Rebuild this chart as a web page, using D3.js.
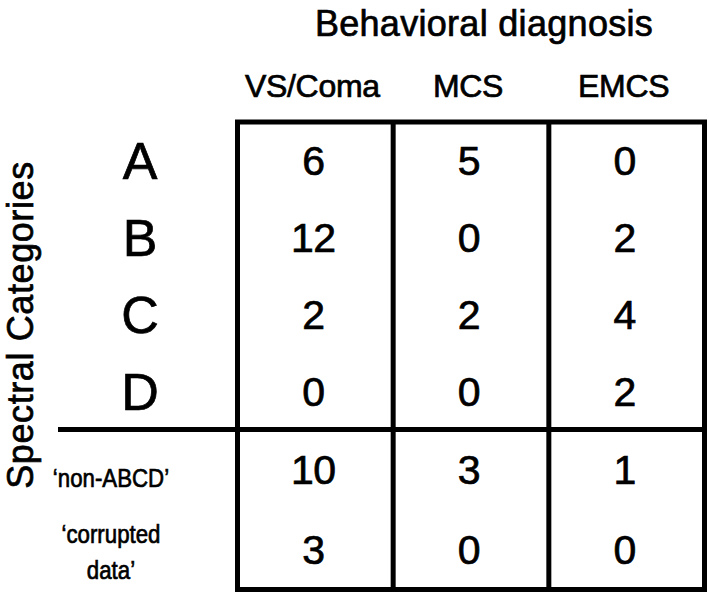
<!DOCTYPE html>
<html>
<head>
<meta charset="utf-8">
<script src="https://cdn.jsdelivr.net/npm/d3@7"></script>
<style>
  body { margin: 0; background: #fff; }
  text { font-family: "Liberation Sans", Arial, Helvetica, sans-serif; fill: #000; stroke: #000; stroke-width: 0.7px; }
</style>
</head>
<body>
<svg width="709" height="597"></svg>
<script>
// behavioral diagnosis columns
const diagnoses = ["VS/Coma", "MCS", "EMCS"];
// spectral categories (upper block) and extra rows (lower block)
const categories = ["A", "B", "C", "D"];
const extraRows = ["non-ABCD", "corrupted"];
const extraLabels = [["\u2018non-ABCD\u2019"], ["\u2018corrupted", "data\u2019"]];

// counts, one array per diagnosis column
const vsComa = [6, 12, 2, 0, 10, 3];
const mcs    = [5, 0, 2, 0, 3, 0];
const emcs   = [0, 2, 4, 2, 1, 0];
const counts = [vsComa, mcs, emcs];

const svg = d3.select("svg");

const boxL = 237.5, boxR = 704.5, boxT = 122, boxM = 429.5, boxB = 589.5;

const x = d3.scaleBand().domain(diagnoses).range([boxL, boxR]);
const yTop = d3.scaleBand().domain(categories).range([boxT, boxM]);
const yBot = d3.scaleBand().domain(extraRows).range([boxM, boxB]);

const allRows = categories.concat(extraRows);
const rowCenter = r => categories.includes(r)
    ? yTop(r) + yTop.bandwidth() / 2
    : yBot(r) + yBot.bandwidth() / 2;

// title
svg.append("text")
    .attr("x", 484)
    .attr("y", 36)
    .attr("text-anchor", "middle")
    .style("font-size", "36px")
    .style("letter-spacing", "0.3px")
    .text("Behavioral diagnosis");

// column headers
svg.selectAll(".colhead")
    .data(diagnoses)
    .join("text")
    .attr("class", "colhead")
    .attr("x", d => x(d) + x.bandwidth() / 2 - 3)
    .attr("y", 97)
    .attr("text-anchor", "middle")
    .style("font-size", "32px")
    .style("letter-spacing", "-0.3px")
    .text(d => d);

// y label
svg.append("text")
    .attr("transform", "translate(33,325) rotate(-90)")
    .attr("text-anchor", "middle")
    .style("font-size", "36px")
    .style("letter-spacing", "0.6px")
    .text("Spectral Categories");

// category letters
svg.selectAll(".cat")
    .data(categories)
    .join("text")
    .attr("class", "cat")
    .attr("x", 140)
    .attr("y", d => rowCenter(d))
    .attr("dy", "0.36em")
    .attr("text-anchor", "middle")
    .style("font-size", "52px")
    .text(d => d);

// extra row labels (a bit condensed, like the original)
const squeeze = 0.84;
const lab = svg.selectAll(".extra")
    .data(extraRows)
    .join("text")
    .attr("class", "extra")
    .attr("transform", `scale(${squeeze},1)`)
    .attr("text-anchor", "middle")
    .style("font-size", "26.5px");

lab.each(function(d, i) {
    const lines = extraLabels[i];
    const cy = rowCenter(d);
    const lh = 36;
    d3.select(this).selectAll("tspan")
        .data(lines)
        .join("tspan")
        .attr("x", 111 / squeeze)
        .attr("y", (l, j) => cy + (j - (lines.length - 1) / 2) * lh + (lines.length === 1 ? 18 : 12))
        .text(l => l);
});

// cell values
const cells = [];
counts.forEach((col, ci) => {
    col.forEach((v, ri) => cells.push({ col: diagnoses[ci], row: allRows[ri], v }));
});

svg.selectAll(".val")
    .data(cells)
    .join("text")
    .attr("class", "val")
    .attr("x", d => x(d.col) + x.bandwidth() / 2 - 2)
    .attr("y", d => rowCenter(d.row))
    .attr("dy", "0.36em")
    .attr("text-anchor", "middle")
    .style("font-size", "41px")
    .style("letter-spacing", "-0.5px")
    .text(d => d.v);

// grid lines
const g = svg.append("g")
    .attr("stroke", "#000")
    .attr("stroke-width", 5)
    .attr("fill", "none");

g.append("rect")
    .attr("x", boxL)
    .attr("y", boxT)
    .attr("width", boxR - boxL)
    .attr("height", boxB - boxT);

g.selectAll(".div")
    .data(diagnoses.slice(1))
    .join("line")
    .attr("x1", d => x(d))
    .attr("x2", d => x(d))
    .attr("y1", boxT)
    .attr("y2", boxB);

g.append("line")
    .attr("x1", 58)
    .attr("x2", boxR)
    .attr("y1", yBot(extraRows[0]))
    .attr("y2", yBot(extraRows[0]));
</script>
</body>
</html>
